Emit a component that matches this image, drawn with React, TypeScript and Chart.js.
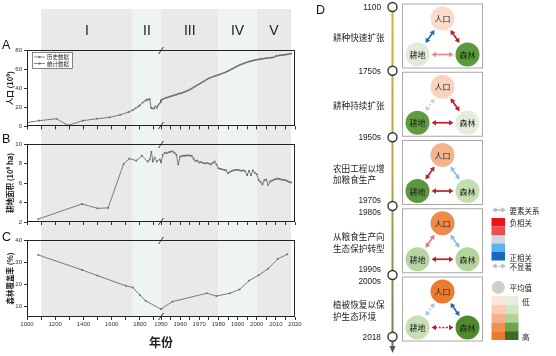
import React, { useEffect, useRef } from 'react';
import { Chart, registerables } from 'chart.js';
Chart.register(...registerables);

const FONT = '"Liberation Sans", Arial, sans-serif';
const CJK = '"Noto Sans CJK SC", "Noto Sans", sans-serif';

// ---------- period bands ----------
const bandStarts = [1100, 1750, 1950, 1980, 2000];
const bandEnds = [1750, 1950, 1980, 2000, 2018];
const bandNames = ['I', 'II', 'III', 'IV', 'V'];
const bandColors = ['#e9e9e9', '#eef5f1', '#e9e9e9', '#eef5f1', '#e9e9e9'];

// ---------- x axis (broken at 1950) ----------
const leftTickYears = [1000, 1100, 1200, 1300, 1400, 1500, 1600, 1700, 1800, 1900];
const rightTickYears = [1950, 1955, 1960, 1965, 1970, 1975, 1980, 1985, 1990, 1995, 2000, 2005, 2010, 2015, 2020];
const labelYears = [1000, 1200, 1400, 1600, 1800, 1950, 1960, 1970, 1980, 1990, 2000, 2010, 2020];

// ---------- A: population (10^6) ----------
const popHistYears = [1000, 1085, 1210, 1290, 1395, 1495, 1585, 1660, 1720, 1750, 1770, 1790, 1800, 1820, 1840, 1850, 1860, 1870, 1880, 1890, 1900, 1910, 1920, 1930, 1940, 1949];
const popHistValues = [4, 6, 8, 1, 6, 8, 9.5, 12, 15, 17, 19, 21, 22, 25, 27, 28, 28, 28.5, 19.5, 19, 18.5, 21, 19.5, 22, 24, 26];
const statYears: number[] = [];
for (let y = 1949; y <= 2018; y++) statYears.push(y);
const popStatValues = [
  26.0, 27.5, 28.5, 29.5, 30.2, 30.8, 31.4, 32.0, 32.7, 33.3,
  34.0, 34.6, 35.2, 35.9, 36.7, 37.6, 38.5, 39.6, 40.8, 42.0,
  43.2, 44.4, 45.6, 46.8, 48.0, 49.2, 50.3, 51.2, 52.0, 52.7,
  53.3, 54.0, 54.7, 55.4, 56.2, 57.0, 57.9, 58.9, 60.0, 61.1,
  62.2, 63.2, 64.1, 65.0, 65.8, 66.5, 67.2, 67.8, 68.4, 68.9,
  69.4, 69.8, 70.2, 70.5, 70.8, 71.1, 71.4, 71.6, 71.9, 72.1,
  72.4, 73.6, 74.0, 74.3, 74.6, 74.9, 75.2, 75.5, 75.8, 76.2,
];
const popTicks = [0, 20, 40, 60, 80];

// ---------- B: cropland area (10^6 ha) ----------
const cropHistYears = [1080, 1390, 1500, 1575, 1685, 1725, 1775, 1815, 1855, 1870, 1882, 1892, 1905, 1920, 1940];
const cropHistValues = [2.3, 3.85, 3.4, 3.45, 7.95, 8.5, 8.3, 8.8, 8.2, 8.4, 9.2, 8.2, 8.6, 8.2, 8.4];
const cropStatValues = [
  8.3, 8.1, 8.9, 9.1, 9.05, 9.15, 9.2, 9.25, 9.1, 8.9,
  7.9, 8.7, 8.75, 8.8, 8.8, 8.85, 8.8, 8.8, 8.5, 8.25,
  8.3, 8.1, 8.15, 8.05, 8.0, 8.05, 8.0, 7.9, 8.05, 8.2,
  7.9, 7.5, 7.45, 7.4, 7.35, 7.3, 7.0, 7.15, 7.25, 7.3,
  7.35, 7.35, 7.3, 7.25, 7.3, 7.2, 6.8, 7.25, 6.8, 7.3,
  7.05, 6.9, 6.3, 6.1, 5.85, 6.3, 6.35, 5.8, 6.15, 6.25,
  6.35, 6.4, 6.45, 6.4, 6.35, 6.3, 6.3, 6.2, 6.1, 6.05,
];
const cropTicks = [2, 4, 6, 8, 10];

// ---------- C: forest coverage (%) ----------
const forestYears = [1080, 1390, 1500, 1700, 1750, 1800, 1840, 1949, 1956, 1974, 1979, 1986, 1991, 1996, 2001, 2006, 2011, 2016];
const forestValues = [33.2, 26.4, 23.8, 19.2, 18.4, 15, 12.4, 8.6, 12, 15.8, 14.5, 15.8, 17.5, 21.5, 24, 27, 31.4, 33.5];
const forestTicks = [10, 20, 30, 40];

// ---------- D: diagram ----------
const stageTimes = [['1100'], ['1750s'], ['1950s'], ['1970s', '1980s'], ['1990s', '2000s'], ['2018']];
const stageDesc = [['耕种快速扩张'], ['耕种持续扩张'], ['农田工程以增', '加粮食生产'], ['从粮食生产向', '生态保护转型'], ['植被恢复以保', '护生态环境']];
const nodeNames = ['人口', '耕地', '森林'];
const popColors = ['#f9dccb', '#f8d3bd', '#f3b48c', '#ee8b4a', '#ec7b30'];
const cropColors = ['#e3eadb', '#5f9c3f', '#5d963c', '#b6d5a0', '#c6dfb5'];
const forestColors = ['#5a9a3a', '#e6ecdc', '#c4dfb0', '#b3d49b', '#4f8a2f'];
// arrow [pop-crop, pop-forest, crop-forest] colour and dotted flag
const relPopCrop = ['#2468a8', '#d0d0d0', '#c02030', '#e07888', '#9ccbec'];
const relPopForest = ['#b82030', '#b82030', '#8cc0e8', '#88bce4', '#2068a8'];
const relCropForest = ['#e88a90', '#c0202e', '#b82030', '#b82030', '#b82030'];
const dotPopCrop = [false, true, false, false, true];
const dotPopForest = [false, false, false, false, false];
const dotCropForest = [false, false, false, false, true];
const corrScale = ['#e8151b', '#f04c4c', '#d3d6de', '#5fb0f0', '#1768c0'];
const meanOrange = ['#fbe6da', '#f9cdb0', '#f5b08a', '#f09050', '#ec7a2e'];
const meanGreen = ['#e6efdf', '#d2e5c4', '#b2d398', '#6ca64a', '#3e6c24'];

function tOf(year: number) {
  return year <= 1950 ? ((year - 1000) / 950) * 70 : 70 + (year - 1950);
}
const tickTs = [...leftTickYears.map(tOf), ...rightTickYears.map(tOf)];
function labelFor(v: number) {
  const y = labelYears.find((yr) => Math.abs(tOf(yr) - v) < 1e-6);
  return y === undefined ? '' : String(y);
}
const pts = (ys: number[], vs: number[]) => ys.map((y, i) => ({ x: tOf(y), y: vs[i] }));

const decoPlugin = {
  id: 'deco',
  beforeDraw(chart: any, _a: any, o: any) {
    const { ctx, chartArea } = chart;
    const xs = chart.scales.x;
    const top = o.bandTop;
    const bottom = o.toPlotBottom ? chartArea.bottom : chart.height;
    ctx.save();
    bandStarts.forEach((s, i) => {
      const x0 = xs.getPixelForValue(tOf(s));
      const x1 = xs.getPixelForValue(tOf(bandEnds[i]));
      ctx.fillStyle = bandColors[i];
      ctx.fillRect(x0, top, x1 - x0, bottom - top);
      if (o.names) {
        ctx.fillStyle = '#222';
        ctx.font = '14px ' + FONT;
        ctx.textAlign = 'center';
        ctx.textBaseline = 'middle';
        ctx.fillText(bandNames[i], (x0 + x1) / 2, o.namesY);
      }
    });
    ctx.restore();
  },
  afterDraw(chart: any, _a: any, o: any) {
    const { ctx, chartArea } = chart;
    const xs = chart.scales.x;
    ctx.save();
    ctx.strokeStyle = '#222';
    ctx.lineWidth = 1;
    const l = Math.round(chartArea.left) + 0.5, t = Math.round(chartArea.top) + 0.5;
    const r = Math.round(chartArea.right) - 0.5, b = Math.round(chartArea.bottom) - 0.5;
    ctx.strokeRect(l, t, r - l, b - t);
    // axis break marks
    const xb = xs.getPixelForValue(70);
    ctx.lineWidth = 0.9;
    [t, b].forEach((yy) => {
      ctx.beginPath();
      ctx.moveTo(xb - 2.5, yy + 3.5);
      ctx.lineTo(xb + 2.5, yy - 3.5);
      ctx.stroke();
    });
    // panel letter
    ctx.fillStyle = '#111';
    ctx.font = '12.5px ' + FONT;
    ctx.textAlign = 'left';
    ctx.textBaseline = 'alphabetic';
    ctx.fillText(o.letter, 2, o.letterY);
    // legend
    if (o.legend) {
      const lx = chartArea.left + 5, ly = chartArea.top + 2;
      ctx.fillStyle = '#fff';
      ctx.fillRect(lx, ly, 40, 16);
      ctx.strokeStyle = '#555';
      ctx.lineWidth = 0.7;
      ctx.strokeRect(lx + 0.5, ly + 0.5, 40, 16);
      chart.data.datasets.forEach((ds: any, i: number) => {
        const yy = ly + 5 + i * 6.5;
        ctx.strokeStyle = ds.borderColor;
        ctx.lineWidth = 0.8;
        ctx.beginPath();
        ctx.moveTo(lx + 2, yy);
        ctx.lineTo(lx + 13, yy);
        ctx.stroke();
        ctx.fillStyle = ds.borderColor;
        ctx.fillRect(lx + 6.5, yy - 1, 2, 2);
        ctx.fillStyle = '#222';
        ctx.font = '5.5px ' + CJK;
        ctx.textBaseline = 'middle';
        ctx.fillText(ds.label, lx + 15, yy);
      });
    }
    ctx.restore();
  },
};

const LINE = '#6d6d6d';
function ds(label: string, data: any[]) {
  return {
    label,
    data,
    borderColor: LINE,
    backgroundColor: LINE,
    borderWidth: 0.9,
    pointRadius: 1.2,
    pointStyle: 'rect',
    pointBorderWidth: 0,
    tension: 0,
  };
}

function makeConfig(p: any) {
  return {
    type: 'line',
    data: { datasets: p.datasets },
    plugins: [decoPlugin],
    options: {
      responsive: false,
      animation: false,
      devicePixelRatio: 1,
      layout: { padding: { left: 0, right: 15, top: p.padTop, bottom: 0 } },
      plugins: {
        legend: { display: false },
        tooltip: { enabled: false },
        deco: p.deco,
      },
      scales: {
        x: {
          type: 'linear',
          min: 0,
          max: 140,
          afterBuildTicks: (s: any) => { s.ticks = tickTs.map((v) => ({ value: v })); },
          afterFit: (s: any) => { s.height = p.xHeight; },
          ticks: {
            display: p.xLabels,
            autoSkip: false,
            maxRotation: 0,
            padding: 1,
            color: '#333',
            font: { size: 6, family: FONT },
            callback: (v: number) => labelFor(v),
          },
          grid: { drawOnChartArea: false, drawTicks: true, tickLength: 3, color: '#333' },
          border: { display: false },
          title: p.xLabels
            ? { display: true, text: '年份', color: '#222', font: { size: 12, family: CJK, weight: 'bold' }, padding: { top: 0, bottom: 6 } }
            : { display: false },
        },
        y: {
          min: p.ymin,
          max: p.ymax,
          afterBuildTicks: (s: any) => { s.ticks = p.yTicks.map((v: number) => ({ value: v })); },
          afterFit: (s: any) => { s.width = 27; },
          ticks: { color: '#333', padding: 2, font: { size: 6, family: FONT } },
          grid: { drawOnChartArea: false, drawTicks: true, tickLength: 3, color: '#333' },
          border: { display: false },
          title: {
            display: true,
            text: p.yTitle,
            color: '#222',
            font: { size: 7.5, family: CJK, weight: 'bold' },
            padding: { top: 5.5, bottom: 0 },
          },
        },
      },
    },
  };
}

const NODE_R = 12;
function Arrow({ a, b, color, dotted }: any) {
  const dx = b[0] - a[0], dy = b[1] - a[1];
  const L = Math.hypot(dx, dy);
  const ux = dx / L, uy = dy / L, nx = -uy, ny = ux;
  const off = NODE_R + 2;
  const s = [a[0] + ux * off, a[1] + uy * off];
  const e = [b[0] - ux * off, b[1] - uy * off];
  const H = 4.5, W = 2.7;
  const head = (p: number[], dir: number) => {
    const bx = p[0] - dir * ux * H, by = p[1] - dir * uy * H;
    return `${p[0]},${p[1]} ${bx + nx * W},${by + ny * W} ${bx - nx * W},${by - ny * W}`;
  };
  return (
    <g>
      <line x1={s[0] + ux * H * 0.8} y1={s[1] + uy * H * 0.8} x2={e[0] - ux * H * 0.8} y2={e[1] - uy * H * 0.8}
        stroke={color} strokeWidth={1.7} strokeDasharray={dotted ? '2 1.6' : undefined} />
      <polygon points={head(e, 1)} fill={color} />
      <polygon points={head(s, -1)} fill={color} />
    </g>
  );
}

function PanelD() {
  const TLX = 392.5;
  const circleY = [7, 70.7, 137.3, 206, 275, 336.7];
  const boxX = 402.5, boxW = 80, boxH = 64;
  const boxTop = (i: number) => 4 + i * 68.25;
  const txt = { fontFamily: CJK, fill: '#222' } as any;
  return (
    <svg width={556} height={356} style={{ position: 'absolute', left: 0, top: 0 }}>
      <defs>
        <linearGradient id="tl" x1="0" y1="0" x2="0" y2="1">
          <stop offset="0" stopColor="#cfb23e" />
          <stop offset="0.5" stopColor="#b3a645" />
          <stop offset="1" stopColor="#6f7d56" />
        </linearGradient>
      </defs>
      <text x={316} y={14} fontFamily={FONT} fontSize={12.5} fill="#111">D</text>
      <rect x={TLX - 1} y={7} width={2} height={341} fill="url(#tl)" />
      <polygon points={`${TLX},353 ${TLX - 3},346 ${TLX + 3},346`} fill="#555" />
      {circleY.map((cy, i) => (
        <g key={'c' + i}>
          <circle cx={TLX} cy={cy} r={4.5} fill="#fff" stroke="#333" strokeWidth={1.4} />
          {stageTimes[i].map((s, j) => (
            <text key={j} x={381} y={cy + (stageTimes[i].length === 2 ? (j === 0 ? -5.7 : 5.7) : 0)}
              fontFamily={FONT} fontSize={8.3} fill="#222" textAnchor="end" dominantBaseline="central">{s}</text>
          ))}
        </g>
      ))}
      {stageDesc.map((lines, i) => {
        const cy = boxTop(i) + boxH / 2 + 1;
        return lines.map((ln, j) => (
          <text key={i + '-' + j} x={333} y={cy + (lines.length === 2 ? (j === 0 ? -5.8 : 5.8) : 0)}
            {...txt} fontSize={8.6} dominantBaseline="central">{ln}</text>
        ));
      })}
      {popColors.map((_, i) => {
        const top = boxTop(i);
        const P = [boxX + 40, top + 14.5], Cr = [boxX + 15, top + 50.5], F = [boxX + 65, top + 50.5];
        const fills = [popColors[i], cropColors[i], forestColors[i]];
        const centers = [P, Cr, F];
        return (
          <g key={'b' + i}>
            <rect x={boxX} y={top} width={boxW} height={boxH} fill="#fff" stroke="#a8a8a8" strokeWidth={1} />
            <Arrow a={Cr} b={P} color={relPopCrop[i]} dotted={dotPopCrop[i]} />
            <Arrow a={P} b={F} color={relPopForest[i]} dotted={dotPopForest[i]} />
            <Arrow a={Cr} b={F} color={relCropForest[i]} dotted={dotCropForest[i]} />
            {centers.map((c, k) => (
              <g key={k}>
                <circle cx={c[0]} cy={c[1]} r={NODE_R} fill={fills[k]} />
                <text x={c[0]} y={c[1]} {...txt} fontSize={8} textAnchor="middle" dominantBaseline="central">{nodeNames[k]}</text>
              </g>
            ))}
          </g>
        );
      })}
      {/* legend */}
      <Arrow a={[478, 210]} b={[520, 210]} color="#b4bccb" dotted={false} />
      <text x={509.5} y={210} {...txt} fontSize={7.5} dominantBaseline="central">要素关系</text>
      {corrScale.map((c, i) => (
        <rect key={'cs' + i} x={491.5} y={218 + i * 8.5} width={13.5} height={8.5} fill={c} />
      ))}
      <text x={509.5} y={222.5} {...txt} fontSize={7.5} dominantBaseline="central">负相关</text>
      <text x={509.5} y={257.5} {...txt} fontSize={7.5} dominantBaseline="central">正相关</text>
      <Arrow a={[478, 266]} b={[520, 266]} color="#b4bccb" dotted={true} />
      <text x={509.5} y={266} {...txt} fontSize={7.5} dominantBaseline="central">不显著</text>
      <circle cx={498.3} cy={287.3} r={6.5} fill="#cfcfcf" />
      <text x={509.5} y={287.3} {...txt} fontSize={7.5} dominantBaseline="central">平均值</text>
      {meanOrange.map((c, i) => (
        <g key={'m' + i}>
          <rect x={491.5} y={296 + i * 8.8} width={13.5} height={8.8} fill={c} />
          <rect x={505} y={296 + i * 8.8} width={13.5} height={8.8} fill={meanGreen[i]} />
        </g>
      ))}
      <text x={522} y={301} {...txt} fontSize={7.5} dominantBaseline="central">低</text>
      <text x={522} y={336} {...txt} fontSize={7.5} dominantBaseline="central">高</text>
    </svg>
  );
}

export default function App() {
  const refA = useRef<HTMLCanvasElement>(null);
  const refB = useRef<HTMLCanvasElement>(null);
  const refC = useRef<HTMLCanvasElement>(null);

  useEffect(() => {
    const charts: Chart[] = [];
    const cfgA = makeConfig({
      datasets: [ds('历史数据', pts(popHistYears, popHistValues)), ds('统计数据', pts(statYears, popStatValues))],
      padTop: 50, xHeight: 5, xLabels: false, ymin: 0, ymax: 80, yTicks: popTicks, yTitle: '人口 (10⁶)',
      deco: { bandTop: 9, toPlotBottom: false, names: true, namesY: 31, letter: 'A', letterY: 49, legend: true },
    });
    const cfgB = makeConfig({
      datasets: [ds('历史数据', pts(cropHistYears, cropHistValues)), ds('统计数据', pts(statYears, cropStatValues))],
      padTop: 12, xHeight: 8, xLabels: false, ymin: 2, ymax: 10, yTicks: cropTicks, yTitle: '耕地面积 (10⁶ ha)',
      deco: { bandTop: 0, toPlotBottom: false, names: false, letter: 'B', letterY: 11, legend: false },
    });
    const cfgC = makeConfig({
      datasets: [ds('森林覆盖率', pts(forestYears, forestValues))],
      padTop: 10, xHeight: 39, xLabels: true, ymin: 5, ymax: 40, yTicks: forestTicks, yTitle: '森林覆盖率 (%)',
      deco: { bandTop: 0, toPlotBottom: true, names: false, letter: 'C', letterY: 11, legend: false },
    });
    if (refA.current) charts.push(new Chart(refA.current, cfgA as any));
    if (refB.current) charts.push(new Chart(refB.current, cfgB as any));
    if (refC.current) charts.push(new Chart(refC.current, cfgC as any));
    return () => charts.forEach((c) => c.destroy());
  }, []);

  return (
    <div style={{ position: 'absolute', left: 0, top: 0, width: 556, height: 356, background: '#fff', overflow: 'hidden' }}>
      <canvas ref={refA} width={310} height={132} style={{ position: 'absolute', left: 0, top: 0, width: 310, height: 132 }} />
      <canvas ref={refB} width={310} height={98} style={{ position: 'absolute', left: 0, top: 132, width: 310, height: 98 }} />
      <canvas ref={refC} width={310} height={126} style={{ position: 'absolute', left: 0, top: 230, width: 310, height: 126 }} />
      <PanelD />
    </div>
  );
}
